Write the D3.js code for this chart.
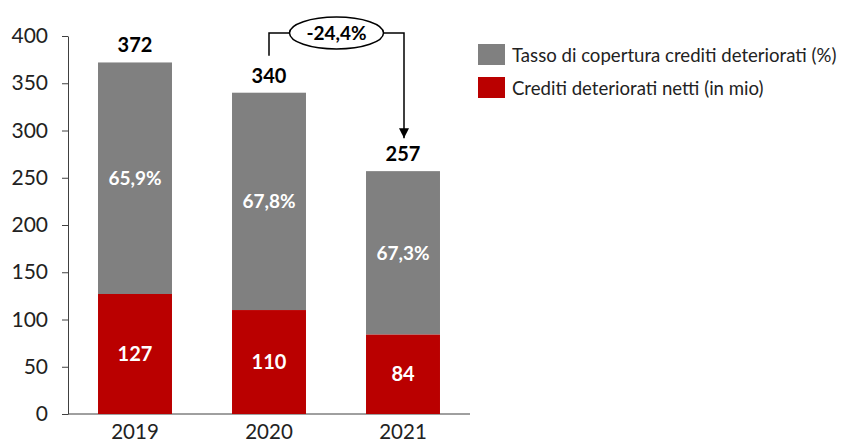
<!DOCTYPE html>
<html><head><meta charset="utf-8">
<script src="https://cdn.jsdelivr.net/npm/d3@7"></script>
<style>body{margin:0;background:#fff}svg{display:block}</style>
</head><body>
<svg id="c" width="843" height="446"></svg>
<script>
const years = ["2019","2020","2021"];
const totals = [372, 340, 257];
const netti = [127, 110, 84];
const coverage = ["65,9%","67,8%","67,3%"];
const yTicks = [0,50,100,150,200,250,300,350,400];
const legendLabels = ["Tasso di copertura crediti deteriorati (%)","Crediti deteriorati netti (in mio)"];
const changeLabel = "-24,4%";
const colors = {grey:"#808080", red:"#BA0000"};
const font = "Lato, 'Open Sans', sans-serif";

const svg = d3.select("#c");
const x = d3.scaleBand().domain(years).range([68,470]).paddingInner(0.448).paddingOuter(0.224);
const y = d3.scaleLinear().domain([0,400]).range([414,36]);

// axis
const ya = svg.append("g").attr("transform","translate(68,0)")
  .call(d3.axisLeft(y).tickValues(yTicks).tickSize(6).tickSizeOuter(0).tickPadding(14));
ya.select(".domain").attr("stroke","#404040");
ya.selectAll(".tick line").attr("stroke","#404040");
ya.selectAll("text").attr("font-family",font).attr("font-size",21).attr("fill","#222");

const xa = svg.append("g").attr("transform","translate(0,414)")
  .call(d3.axisBottom(x).tickSize(0).tickPadding(10));
xa.select(".domain").attr("stroke","#404040").attr("d","M68,0H470");
xa.selectAll("text").attr("font-family",font).attr("font-size",20.5).attr("fill","#222");

const data = years.map((yr,i)=>({yr, total:totals[i], net:netti[i], cov:coverage[i]}));
// grey bars (total)
svg.selectAll(".g").data(data).join("rect")
  .attr("x",d=>x(d.yr)).attr("width",x.bandwidth())
  .attr("y",d=>y(d.total)).attr("height",d=>y(d.net)-y(d.total)).attr("fill",colors.grey);
svg.selectAll(".r").data(data).join("rect")
  .attr("x",d=>x(d.yr)).attr("width",x.bandwidth())
  .attr("y",d=>y(d.net)).attr("height",d=>y(0)-y(d.net)).attr("fill",colors.red);

// labels
svg.selectAll(".tl").data(data).join("text")
  .attr("x",d=>x(d.yr)+x.bandwidth()/2).attr("y",d=>y(d.total)-10)
  .attr("text-anchor","middle").attr("font-family",font).attr("font-weight","bold")
  .attr("font-size",20).attr("fill","#000").text(d=>d.total);
svg.selectAll(".nl").data(data).join("text")
  .attr("x",d=>x(d.yr)+x.bandwidth()/2).attr("y",d=>y(d.net/2)+7)
  .attr("text-anchor","middle").attr("font-family",font).attr("font-weight","bold")
  .attr("font-size",20).attr("fill","#fff").text(d=>d.net);
svg.selectAll(".cl").data(data).join("text")
  .attr("x",d=>x(d.yr)+x.bandwidth()/2).attr("y",d=>y((d.total+d.net)/2)+7)
  .attr("text-anchor","middle").attr("font-family",font).attr("font-weight","bold")
  .attr("font-size",19).attr("fill","#fff").text(d=>d.cov);

// annotation
const x1 = x("2020")+x.bandwidth()/2, x2 = x("2021")+x.bandwidth()/2 + 1;
const cx = (x1+x2)/2, cyA = 33;
svg.append("defs").append("marker").attr("id","ah").attr("viewBox","0 0 10 10")
  .attr("refX",10).attr("refY",5).attr("markerWidth",10).attr("markerHeight",10)
  .attr("markerUnits","userSpaceOnUse").attr("orient","auto")
  .append("path").attr("d","M0,0L10,5L0,10Z").attr("fill","#000");
svg.append("path").attr("d",`M${x1},${y(totals[1])-37}V${cyA}H${cx-47}`)
  .attr("fill","none").attr("stroke","#000").attr("stroke-width",1.5);
svg.append("path").attr("d",`M${cx+47},${cyA}H${x2}V${y(totals[2])-33}`)
  .attr("fill","none").attr("stroke","#000").attr("stroke-width",1.5).attr("marker-end","url(#ah)");
svg.append("ellipse").attr("cx",cx).attr("cy",cyA).attr("rx",47).attr("ry",16)
  .attr("fill","#fff").attr("stroke","#000").attr("stroke-width",1.5);
svg.append("text").attr("x",cx).attr("y",cyA+7).attr("text-anchor","middle")
  .attr("font-family",font).attr("font-weight","bold").attr("font-size",19).text(changeLabel);

// legend
const lg = svg.append("g").attr("transform","translate(478,44)");
[colors.grey, colors.red].forEach((c,i)=>{
  lg.append("rect").attr("x",0).attr("y",i*33).attr("width",27).attr("height",21).attr("fill",c);
  lg.append("text").attr("x",34).attr("y",i*33+18).attr("font-family",font)
    .attr("font-size",18.6).attr("fill","#222").text(legendLabels[i]);
});
</script>
</body></html>
